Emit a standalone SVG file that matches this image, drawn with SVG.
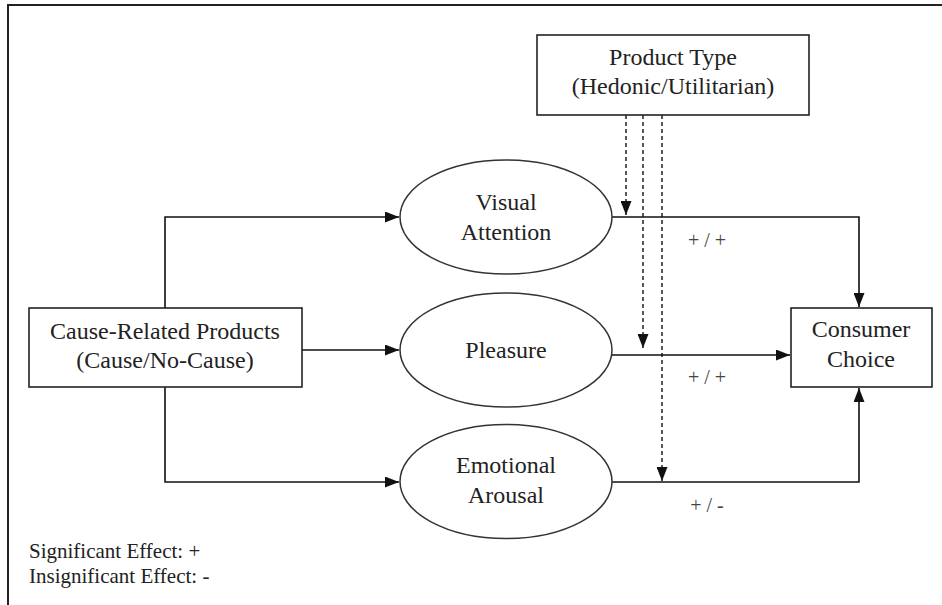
<svg xmlns="http://www.w3.org/2000/svg" width="942" height="605" viewBox="0 0 942 605">
<style>
.box{fill:#fff;stroke:#222;stroke-width:1.6}
.ell{fill:#fff;stroke:#333;stroke-width:1.5}
.t{font-family:"Liberation Serif","Times New Roman",serif;font-size:24px;fill:#222;text-anchor:middle}
.lbl{font-family:"Liberation Serif","Times New Roman",serif;font-size:20px;fill:#444;text-anchor:middle}
.leg{font-family:"Liberation Serif","Times New Roman",serif;font-size:21px;fill:#222}
.ln{fill:none;stroke:#111;stroke-width:1.6}
.dash{fill:none;stroke:#111;stroke-width:1.4;stroke-dasharray:4 3}
</style>
<defs>
<marker id="ah" viewBox="0 0 14 11" refX="14" refY="5.5" markerWidth="14" markerHeight="11" markerUnits="userSpaceOnUse" orient="auto">
<path d="M0,0 L14,5.5 L0,11 Z" fill="#111"/>
</marker>
</defs>
<rect x="8" y="5" width="940" height="610" fill="none" stroke="#222" stroke-width="2"/>
<g id="connectors">
<polyline class="ln" points="165,308 165,217 399,217" marker-end="url(#ah)"/>
<line class="ln" x1="302" y1="350" x2="399" y2="350" marker-end="url(#ah)"/>
<polyline class="ln" points="165,387 165,482 399,482" marker-end="url(#ah)"/>
<polyline class="ln" points="612,217 859,217 859,307" marker-end="url(#ah)"/>
<line class="ln" x1="612" y1="355" x2="790" y2="355" marker-end="url(#ah)"/>
<polyline class="ln" points="612,482 859,482 859,388" marker-end="url(#ah)"/>
<line class="dash" x1="626" y1="115" x2="626" y2="215" marker-end="url(#ah)"/>
<line class="dash" x1="643" y1="115" x2="643" y2="348" marker-end="url(#ah)"/>
<line class="dash" x1="662" y1="115" x2="662" y2="481" marker-end="url(#ah)"/>
<text class="lbl" x="707" y="247">+ / +</text>
<text class="lbl" x="707" y="384">+ / +</text>
<text class="lbl" x="707" y="512">+ / -</text>
</g>
<g id="product-type">
<rect class="box" x="537" y="35" width="272" height="80"/>
<text class="t" x="673" y="65">Product Type</text>
<text class="t" x="673" y="94">(Hedonic/Utilitarian)</text>
</g>
<g id="cause-related">
<rect class="box" x="29" y="308" width="273" height="79"/>
<text class="t" x="165" y="339">Cause-Related Products</text>
<text class="t" x="165" y="368">(Cause/No-Cause)</text>
</g>
<g id="visual-attention">
<ellipse class="ell" cx="506" cy="217" rx="106" ry="57"/>
<text class="t" x="506" y="210">Visual</text>
<text class="t" x="506" y="240">Attention</text>
</g>
<g id="pleasure">
<ellipse class="ell" cx="506" cy="350" rx="106" ry="57"/>
<text class="t" x="506" y="358">Pleasure</text>
</g>
<g id="emotional-arousal">
<ellipse class="ell" cx="506" cy="481.5" rx="106" ry="57"/>
<text class="t" x="506" y="473">Emotional</text>
<text class="t" x="506" y="503">Arousal</text>
</g>
<g id="consumer-choice">
<rect class="box" x="791" y="308" width="141" height="79"/>
<text class="t" x="861" y="337">Consumer</text>
<text class="t" x="861" y="367">Choice</text>
</g>
<g id="legend">
<text class="leg" x="29" y="558">Significant Effect: +</text>
<text class="leg" x="29" y="583">Insignificant Effect: -</text>
</g>
</svg>
